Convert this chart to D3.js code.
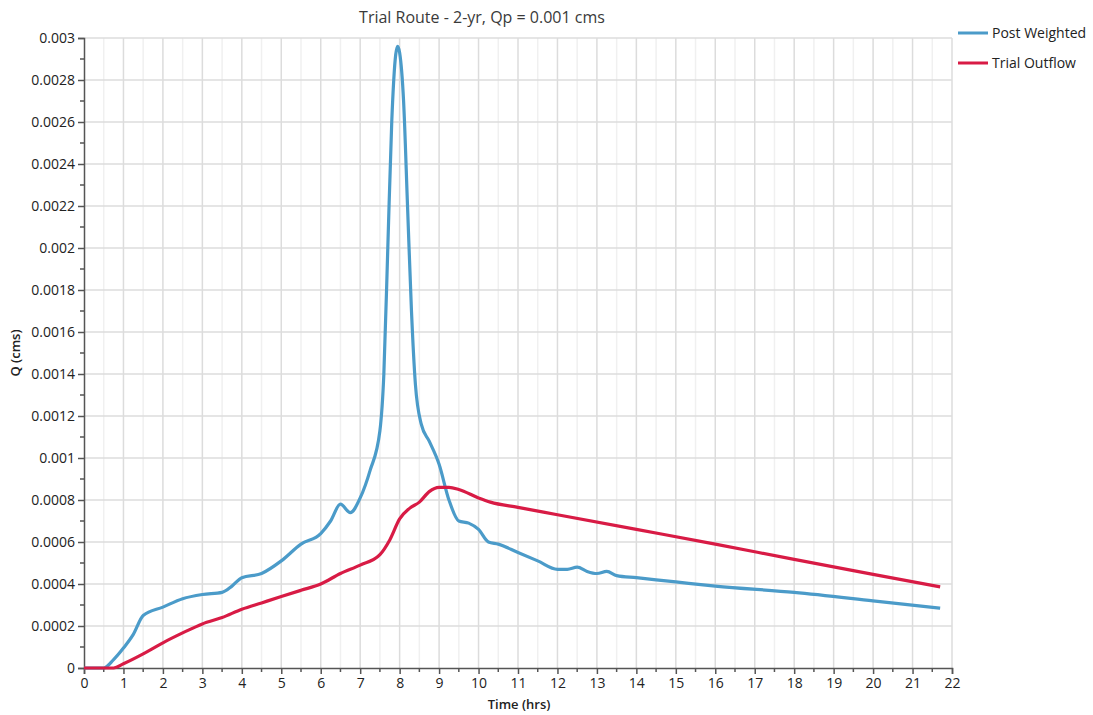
<!DOCTYPE html>
<html>
<head>
<meta charset="utf-8">
<script src="https://cdn.jsdelivr.net/npm/d3@7"></script>
<style>
  body { margin: 0; background: #fff; }
  svg text { font-family: "Open Sans", "Noto Sans", sans-serif; }
</style>
</head>
<body>
<div id="chart"></div>
<script>
// hydrograph values (time in hrs, Q in cms)
const postTime = [0, 0.5, 0.75, 1, 1.25, 1.5, 2, 2.5, 3, 3.5, 3.75, 4, 4.5, 5, 5.5, 6, 6.25, 6.5, 6.75, 7, 7.25, 7.5, 7.6, 7.7, 7.8, 7.9, 7.95, 8.0, 8.1, 8.2, 8.3, 8.4, 8.55, 8.75, 9, 9.25, 9.5, 9.75, 10, 10.25, 10.5, 11, 11.5, 12, 12.25, 12.5, 12.75, 13, 13.25, 13.5, 14, 15, 16, 18, 20, 21.7];
const postQ    = [0, 0, 0.00004, 0.000095, 0.00016, 0.00025, 0.00029, 0.00033, 0.00035, 0.00036, 0.00039, 0.00043, 0.00045, 0.00051, 0.00059, 0.00064, 0.0007, 0.00078, 0.00074, 0.00081, 0.00094, 0.00113, 0.0014, 0.002, 0.0026, 0.00292, 0.00296, 0.00293, 0.0027, 0.0022, 0.0017, 0.00135, 0.00116, 0.00108, 0.00097, 0.0008, 0.0007, 0.00069, 0.00066, 0.0006, 0.00059, 0.00055, 0.00051, 0.00047, 0.00047, 0.00048, 0.00046, 0.00045, 0.00046, 0.00044, 0.00043, 0.00041, 0.00039, 0.00036, 0.00032, 0.000285];

const outTime = [0, 0.75, 1, 1.5, 2, 2.5, 3, 3.5, 4, 4.5, 5, 5.5, 6, 6.5, 7, 7.5, 7.75, 8, 8.25, 8.5, 8.75, 9, 9.25, 9.5, 10, 10.3, 11, 12, 14, 16, 18, 20, 21.7];
const outQ    = [0, 0, 0.00002, 0.000067, 0.00012, 0.000167, 0.00021, 0.00024, 0.00028, 0.00031, 0.00034, 0.00037, 0.0004, 0.00045, 0.00049, 0.00054, 0.00061, 0.00071, 0.00076, 0.00079, 0.00084, 0.00086, 0.00086, 0.00085, 0.00081, 0.00079, 0.000765, 0.00073, 0.00066, 0.00059, 0.000517, 0.000446, 0.000386];

const seriesNames = ['Post Weighted', 'Trial Outflow'];
const seriesColors = ['#4b9bc9', '#d81b45'];
const xTicks = d3.range(0, 23, 1);
const yTicks = [0, 0.0002, 0.0004, 0.0006, 0.0008, 0.001, 0.0012, 0.0014, 0.0016, 0.0018, 0.002, 0.0022, 0.0024, 0.0026, 0.0028, 0.003];

const width = 1093, height = 715;
const margin = {top: 38, right: 141, bottom: 47, left: 84};

const svg = d3.select('#chart').append('svg')
    .attr('width', width)
    .attr('height', height);

const x = d3.scaleLinear().domain([0, 22]).range([margin.left, width - margin.right]);
const y = d3.scaleLinear().domain([0, 0.003]).range([height - margin.bottom, margin.top]);

// gridlines: minor verticals every 0.5 hr, major every hr, horizontals on labelled ticks
svg.append('g').selectAll('line')
    .data(d3.range(0.5, 22, 1))
    .join('line')
    .attr('x1', d => x(d)).attr('x2', d => x(d))
    .attr('y1', y(0)).attr('y2', y(0.003))
    .attr('stroke', '#f0f0f0').attr('stroke-width', 1.5);

svg.append('g').selectAll('line')
    .data(xTicks.slice(1))
    .join('line')
    .attr('x1', d => x(d)).attr('x2', d => x(d))
    .attr('y1', y(0)).attr('y2', y(0.003))
    .attr('stroke', '#dcdcdc').attr('stroke-width', 1.5);

svg.append('g').selectAll('line')
    .data(yTicks.slice(1))
    .join('line')
    .attr('x1', x(0)).attr('x2', x(22))
    .attr('y1', d => y(d)).attr('y2', d => y(d))
    .attr('stroke', '#dcdcdc').attr('stroke-width', 1.5);

// axes
const xAxis = svg.append('g')
    .attr('transform', `translate(0,${y(0)})`)
    .call(d3.axisBottom(x).tickValues(xTicks).tickFormat(d3.format('d')).tickSize(6).tickPadding(4));
const yAxis = svg.append('g')
    .attr('transform', `translate(${x(0)},0)`)
    .call(d3.axisLeft(y).tickValues(yTicks).tickFormat(d => d === 0 ? '0' : String(+d.toFixed(4))).tickSize(6).tickPadding(3));

[xAxis, yAxis].forEach(a => {
    a.select('.domain').attr('stroke', '#555').attr('stroke-width', 1.5);
    a.selectAll('.tick line').attr('stroke', '#555').attr('stroke-width', 1.5);
    a.selectAll('text').attr('fill', '#222').style('font-size', '14px');
});

// minor ticks
svg.append('g').selectAll('line')
    .data(d3.range(0.5, 22, 1))
    .join('line')
    .attr('x1', d => x(d)).attr('x2', d => x(d))
    .attr('y1', y(0)).attr('y2', y(0) + 4)
    .attr('stroke', '#555').attr('stroke-width', 1.5);
svg.append('g').selectAll('line')
    .data(d3.range(0.0001, 0.003, 0.0002))
    .join('line')
    .attr('x1', x(0) - 4).attr('x2', x(0))
    .attr('y1', d => y(d)).attr('y2', d => y(d))
    .attr('stroke', '#555').attr('stroke-width', 1.5);

// lines
const line = d3.line()
    .x(d => x(d[0]))
    .y(d => y(d[1]))
    .curve(d3.curveMonotoneX);

const series = [
    d3.zip(postTime, postQ),
    d3.zip(outTime, outQ)
];

series.forEach((s, i) => {
    svg.append('path')
        .datum(s)
        .attr('d', line)
        .attr('fill', 'none')
        .attr('stroke', seriesColors[i])
        .attr('stroke-width', 3.2)
        .attr('stroke-linejoin', 'round');
});

// titles
svg.append('text')
    .attr('x', 482).attr('y', 23)
    .attr('text-anchor', 'middle')
    .style('font-size', '16px')
    .attr('fill', '#3a3a3a')
    .text('Trial Route - 2-yr, Qp = 0.001 cms');

svg.append('text')
    .attr('x', 519).attr('y', 709)
    .attr('text-anchor', 'middle')
    .style('font-size', '13px')
    .style('font-weight', 600)
    .attr('fill', '#222')
    .text('Time (hrs)');

svg.append('text')
    .attr('transform', `translate(20,${y(0.0015)}) rotate(-90)`)
    .attr('text-anchor', 'middle')
    .style('font-size', '13px')
    .style('font-weight', 600)
    .attr('fill', '#222')
    .text('Q (cms)');

// legend
const legend = svg.append('g').attr('transform', 'translate(958,33)');
seriesNames.forEach((name, i) => {
    const g = legend.append('g').attr('transform', `translate(0,${i * 30})`);
    g.append('line')
        .attr('x1', 0).attr('x2', 30)
        .attr('stroke', seriesColors[i])
        .attr('stroke-width', 3);
    g.append('text')
        .attr('x', 34).attr('y', 5)
        .style('font-size', '14px')
        .attr('fill', '#222')
        .text(name);
});
</script>
</body>
</html>
